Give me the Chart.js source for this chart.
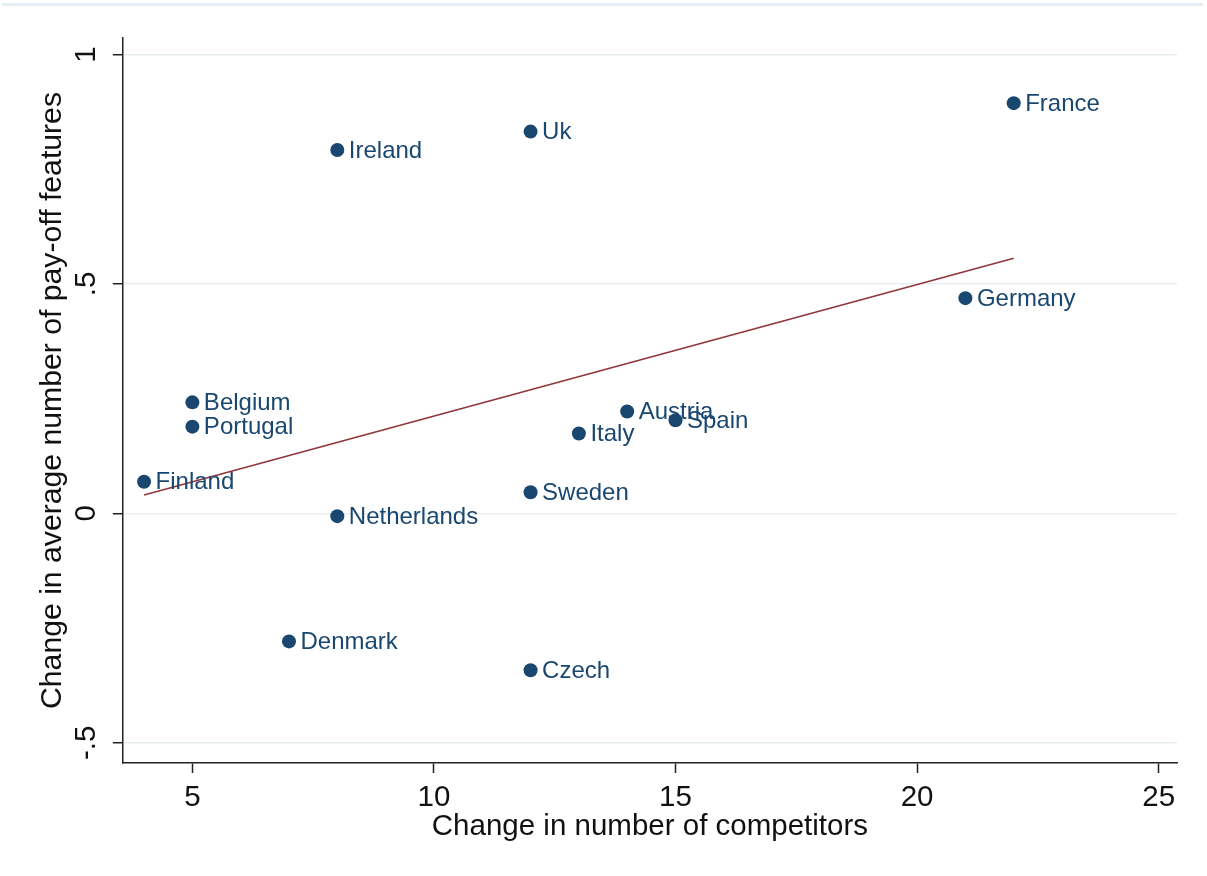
<!DOCTYPE html>
<html>
<head>
<meta charset="utf-8">
<script src="https://cdn.jsdelivr.net/npm/chart.js@4"></script>
<style>
    html, body { margin: 0; padding: 0; background: #fff; }
    canvas { display: block; }
</style>
</head>
<body>
<canvas id="chartCanvas" width="1207" height="876"></canvas>
<script>
const countries = ['France', 'Uk', 'Ireland', 'Germany', 'Belgium', 'Portugal', 'Austria',
    'Spain', 'Italy', 'Finland', 'Sweden', 'Netherlands', 'Denmark', 'Czech']
const competitors = [22, 12, 8, 21, 5, 5, 14, 15, 13, 4, 12, 8, 7, 12]
const payoffChange = [0.894, 0.832, 0.792, 0.469, 0.242, 0.189, 0.222,
    0.203, 0.174, 0.069, 0.046, -0.006, -0.279, -0.342]

// fitted values at the two ends of the x range
const fitX = [4, 22]
const fitY = [0.040, 0.556]

const FONT = '"Liberation Sans", Arial, sans-serif'
const NAVY = '#1a476f'
const INK = '#111'

// country names next to each marker
const pointLabels = {
    id: 'pointLabels',
    afterDatasetsDraw(chart) {
        const meta = chart.getDatasetMeta(0)
        const ctx = chart.ctx
        ctx.save()
        ctx.font = '24px ' + FONT
        ctx.fillStyle = NAVY
        ctx.textAlign = 'left'
        ctx.textBaseline = 'middle'
        meta.data.forEach((pt, i) => {
            ctx.fillText(countries[i], pt.x + 11.5, pt.y + 1)
        })
        ctx.restore()
    }
}

// faint rule along the top of the graph region
const topRule = {
    id: 'topRule',
    beforeDraw(chart) {
        const ctx = chart.ctx
        ctx.save()
        ctx.strokeStyle = '#e6eef1'
        ctx.lineWidth = 3
        ctx.beginPath()
        ctx.moveTo(2, 4.5)
        ctx.lineTo(chart.width - 4, 4.5)
        ctx.stroke()
        ctx.restore()
    }
}

const ctx = document.getElementById('chartCanvas').getContext('2d')
new Chart(ctx, {
    type: 'scatter',
    data: {
        datasets: [{
            data: competitors.map((x, i) => ({ x: x, y: payoffChange[i] })),
            backgroundColor: NAVY,
            borderColor: NAVY,
            pointRadius: 7,
            pointBorderWidth: 0,
            order: 2
        }, {
            type: 'line',
            data: fitX.map((x, i) => ({ x: x, y: fitY[i] })),
            borderColor: '#90353b',
            borderWidth: 1.5,
            pointRadius: 0,
            fill: false,
            order: 1
        }]
    },
    options: {
        responsive: false,
        animation: false,
        layout: { padding: { top: 38, right: 30, left: 0, bottom: 0 } },
        plugins: {
            legend: { display: false },
            tooltip: { enabled: false }
        },
        scales: {
            x: {
                type: 'linear',
                min: 3.56,
                max: 25.38,
                afterFit: s => { s.height = 113 },
                border: { color: '#222', width: 1.5 },
                grid: { drawOnChartArea: false, tickLength: 10, tickColor: '#222', tickWidth: 1.5 },
                ticks: {
                    stepSize: 5,
                    includeBounds: false,
                    color: INK,
                    padding: 7,
                    font: { family: FONT, size: 29.5 }
                },
                title: {
                    display: true,
                    text: 'Change in number of competitors',
                    color: INK,
                    font: { family: FONT, size: 29.5 },
                    padding: { top: 0, bottom: 31 }
                }
            },
            y: {
                min: -0.544,
                max: 1.036,
                afterFit: s => { s.width = 122.8 },
                border: { color: '#222', width: 1.5 },
                grid: { color: '#e8eff2', lineWidth: 1.5, tickLength: 10, tickColor: '#222', tickWidth: 1.5 },
                ticks: {
                    stepSize: 0.5,
                    includeBounds: false,
                    minRotation: 90,
                    maxRotation: 90,
                    crossAlign: 'center',
                    padding: 9,
                    color: INK,
                    font: { family: FONT, size: 29.5 },
                    callback: v => String(v).replace('0.', '.')
                },
                title: {
                    display: true,
                    text: 'Change in average number of pay-off features',
                    color: INK,
                    font: { family: FONT, size: 30.2 },
                    padding: { top: 35, bottom: 0 }
                }
            }
        }
    },
    plugins: [pointLabels, topRule]
})
</script>
</body>
</html>
